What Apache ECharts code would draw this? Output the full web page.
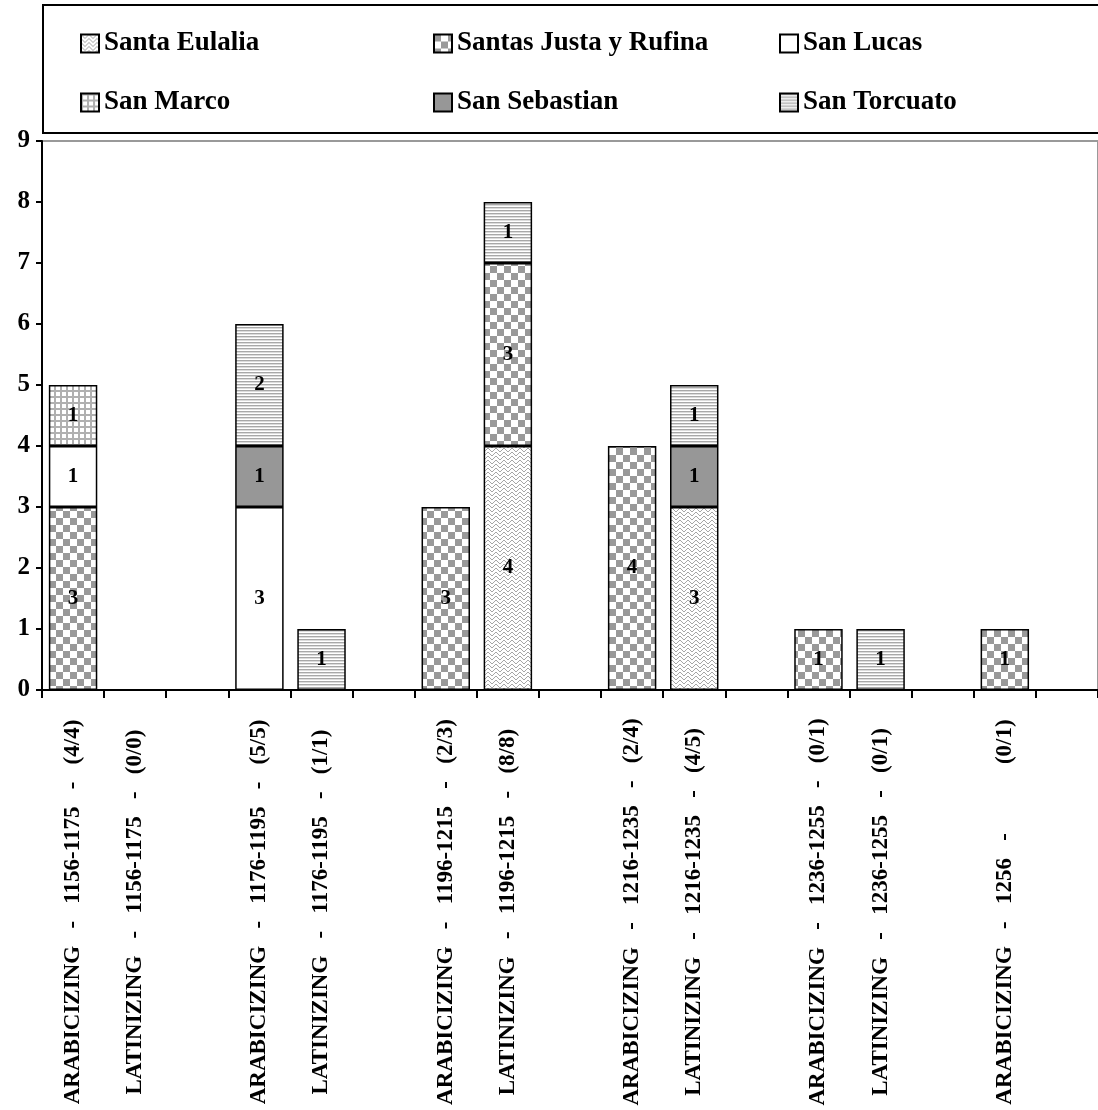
<!DOCTYPE html>
<html>
<head>
<meta charset="utf-8">
<script src="https://cdn.jsdelivr.net/npm/echarts@6/dist/echarts.min.js"></script>
<style>
  html, body { margin: 0; padding: 0; background: #fff; }
  #main { width: 1098px; height: 1110px; }
</style>
</head>
<body>
<div id="main"></div>
<script>
// categories (empty strings are the gaps between periods)
var categories = [
  'ARABICIZING   -   1156-1175   -   (4/4)',
  'LATINIZING   -   1156-1175   -   (0/0)',
  '',
  'ARABICIZING   -   1176-1195   -   (5/5)',
  'LATINIZING   -   1176-1195   -   (1/1)',
  '',
  'ARABICIZING   -   1196-1215   -   (2/3)',
  'LATINIZING   -   1196-1215   -   (8/8)',
  '',
  'ARABICIZING   -   1216-1235   -   (2/4)',
  'LATINIZING   -   1216-1235   -   (4/5)',
  '',
  'ARABICIZING   -   1236-1255   -   (0/1)',
  'LATINIZING   -   1236-1255   -   (0/1)',
  '',
  'ARABICIZING   -   1256   -            (0/1)',
  ''
];

var seriesNames = ['Santa Eulalia', 'Santas Justa y Rufina', 'San Lucas', 'San Marco', 'San Sebastian', 'San Torcuato'];

var eulalia   = [null, null, null, null, null, null, null, 4, null, null, 3, null, null, null, null, null, null];
var justa     = [3, null, null, null, null, null, 3, 3, null, 4, null, null, 1, null, null, 1, null];
var lucas     = [1, null, null, 3, null, null, null, null, null, null, null, null, null, null, null, null, null];
var marco     = [1, null, null, null, null, null, null, null, null, null, null, null, null, null, null, null, null];
var sebastian = [null, null, null, 1, null, null, null, null, null, null, 1, null, null, null, null, null, null];
var torcuato  = [null, null, null, 2, 1, null, null, 1, null, null, 1, null, null, 1, null, null, null];

var yTicks = [0, 1, 2, 3, 4, 5, 6, 7, 8, 9];

var FONT = "'Liberation Serif', 'Times New Roman', serif";

// small canvas tiles to imitate the excel fill patterns
function tile(w, h, draw) {
  var c = document.createElement('canvas');
  c.width = w;
  c.height = h;
  var ctx = c.getContext('2d');
  ctx.fillStyle = '#fff';
  ctx.fillRect(0, 0, w, h);
  draw(ctx);
  return { image: c, repeat: 'repeat' };
}

var fills = [
  // herringbone
  tile(8, 8, function (ctx) {
    ctx.strokeStyle = '#a6a6a6';
    ctx.lineWidth = 1;
    ctx.beginPath();
    ctx.moveTo(0, 0); ctx.lineTo(4, 4); ctx.lineTo(8, 0);
    ctx.moveTo(0, 4); ctx.lineTo(4, 8); ctx.lineTo(8, 4);
    ctx.stroke();
  }),
  // checkerboard
  tile(14, 14, function (ctx) {
    ctx.fillStyle = '#999';
    ctx.fillRect(0, 0, 7, 7);
    ctx.fillRect(7, 7, 7, 7);
  }),
  '#fff',
  // grid
  tile(6, 6, function (ctx) {
    ctx.fillStyle = '#b0b0b0';
    ctx.fillRect(0, 0, 6, 2);
    ctx.fillRect(0, 0, 2, 6);
  }),
  '#979797',
  // horizontal lines
  tile(3, 3, function (ctx) {
    ctx.fillStyle = '#a8a8a8';
    ctx.fillRect(0, 0, 3, 1);
    ctx.fillStyle = '#dcdcdc';
    ctx.fillRect(0, 1, 3, 1);
  })
];

var allData = [eulalia, justa, lucas, marco, sebastian, torcuato];

var series = seriesNames.map(function (name, i) {
  return {
    name: name,
    type: 'bar',
    stack: 'total',
    barWidth: '78%',
    data: allData[i],
    itemStyle: {
      color: fills[i],
      borderColor: '#000',
      borderWidth: 1.5
    },
    label: {
      show: true,
      position: 'inside',
      color: '#000',
      fontFamily: FONT,
      fontWeight: 'bold',
      fontSize: 21,
      textBorderWidth: 0
    }
  };
});

function legendCol(left, names) {
  return {
    orient: 'vertical',
    left: left,
    top: 30,
    padding: 0,
    icon: 'rect',
    itemWidth: 18,
    itemHeight: 18,
    itemGap: 32,
    data: names,
    itemStyle: { borderColor: '#000', borderWidth: 2 },
    textStyle: {
      color: '#000',
      fontFamily: FONT,
      fontWeight: 'bold',
      fontSize: 27,
      lineHeight: 26
    }
  };
}

var chart = echarts.init(document.getElementById('main'), null, { renderer: 'canvas' });

var option = {
  backgroundColor: '#fff',
  animation: false,
  graphic: [{
    type: 'rect',
    shape: { x: 43, y: 5, width: 1100, height: 128 },
    style: { fill: 'none', stroke: '#000', lineWidth: 2 },
    silent: true
  }],
  legend: [
    legendCol(80, [seriesNames[0], seriesNames[3]]),
    legendCol(433, [seriesNames[1], seriesNames[4]]),
    legendCol(779, [seriesNames[2], seriesNames[5]])
  ],
  grid: {
    left: 42,
    right: -6.5,
    top: 141,
    bottom: 420,
    show: true,
    borderColor: '#999',
    borderWidth: 2
  },
  xAxis: {
    type: 'category',
    data: categories,
    axisLine: { lineStyle: { color: '#000', width: 2 } },
    axisTick: { show: true, interval: 0, length: 8, lineStyle: { color: '#000', width: 2 } },
    axisLabel: {
      interval: 0,
      rotate: 90,
      align: 'center',
      verticalAlign: 'middle',
      margin: 222,
      color: '#000',
      fontFamily: FONT,
      fontWeight: 'bold',
      fontSize: 23
    }
  },
  yAxis: {
    type: 'value',
    min: yTicks[0],
    max: yTicks[yTicks.length - 1],
    interval: 1,
    splitLine: { show: false },
    axisLine: { show: true, lineStyle: { color: '#000', width: 2 } },
    axisTick: { show: true, length: 6, lineStyle: { color: '#000', width: 2 } },
    axisLabel: {
      margin: 12,
      color: '#000',
      fontFamily: FONT,
      fontWeight: 'bold',
      fontSize: 25
    }
  },
  series: series
};

chart.setOption(option);
</script>
</body>
</html>
